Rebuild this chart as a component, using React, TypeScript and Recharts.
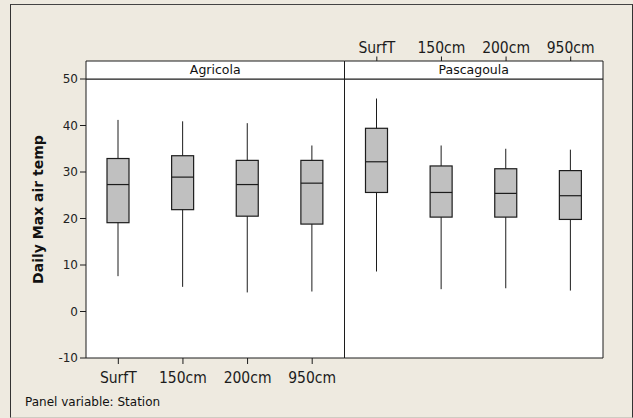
import React from 'react';
import { ComposedChart, Bar, XAxis, YAxis, ReferenceArea, CartesianGrid } from 'recharts';

const categories = ['SurfT', '150cm', '200cm', '950cm'];
const stations = ['Agricola', 'Pascagoula'];

const agricolaMin = [7.6, 5.3, 4.1, 4.3];
const agricolaQ1 = [19.1, 21.9, 20.5, 18.8];
const agricolaMedian = [27.3, 28.9, 27.3, 27.6];
const agricolaQ3 = [32.9, 33.5, 32.5, 32.5];
const agricolaMax = [41.2, 40.9, 40.5, 35.7];

const pascagoulaMin = [8.6, 4.8, 5.0, 4.5];
const pascagoulaQ1 = [25.6, 20.3, 20.3, 19.8];
const pascagoulaMedian = [32.2, 25.6, 25.4, 24.9];
const pascagoulaQ3 = [39.4, 31.3, 30.7, 30.3];
const pascagoulaMax = [45.8, 35.7, 35.0, 34.8];

const yTicks = [-10, 0, 10, 20, 30, 40, 50];
const yLabel = 'Daily Max air temp';
const footnote = 'Panel variable: Station';

const build = (station: string, mn: number[], q1: number[], md: number[], q3: number[], mx: number[]) =>
  categories.map((c, i) => ({
    key: `${station}|${c}`,
    station,
    cat: c,
    min: mn[i],
    q1: q1[i],
    median: md[i],
    q3: q3[i],
    max: mx[i],
  }));

const data = [
  ...build(stations[0], agricolaMin, agricolaQ1, agricolaMedian, agricolaQ3, agricolaMax),
  ...build(stations[1], pascagoulaMin, pascagoulaQ1, pascagoulaMedian, pascagoulaQ3, pascagoulaMax),
];

const W = 633;
const H = 418;
const BG = '#EEEAE0';
const INK = '#1c1c1c';
const FONT = '"DejaVu Sans", Verdana, sans-serif';
const COND = '"DejaVu Sans Condensed", "DejaVu Sans", sans-serif';
const STRIP_TOP = 53.87;

const BoxShape = (props: any) => {
  const { x, y, width, height, payload } = props;
  if (!payload || !isFinite(y) || !isFinite(height)) return <g />;
  const top = Math.min(y, y + height);
  const h = Math.abs(height);
  const { min, q1, median, q3, max } = payload;
  const span = max - min;
  const toY = (v: number) => top + (h * (max - v)) / span;
  const cx = x + width / 2;
  return (
    <g>
      <line x1={cx} x2={cx} y1={toY(max)} y2={toY(min)} stroke={INK} strokeWidth={1} />
      <rect x={x} y={toY(q3)} width={width} height={toY(q1) - toY(q3)} fill="#C0C0C0" stroke={INK} strokeWidth={1.2} />
      <line x1={x} x2={x + width} y1={toY(median)} y2={toY(median)} stroke={INK} strokeWidth={1.2} />
    </g>
  );
};

const BottomTick = (props: any) => {
  const { x, y, payload, index } = props;
  if (index >= categories.length) return <g />;
  const label = String(payload.value).split('|')[1];
  return (
    <g>
      <line x1={x} x2={x} y1={y} y2={y + 6} stroke={INK} strokeWidth={1} />
      <text x={x} y={y + 24.5} textAnchor="middle" fontFamily={COND} fontStretch="condensed" fontSize={15.5} fill={INK}>
        {label}
      </text>
    </g>
  );
};

const TopTick = (props: any) => {
  const { x, y, payload, index } = props;
  if (index < categories.length) return <g />;
  const label = String(payload.value).split('|')[1];
  return (
    <g>
      <line x1={x} x2={x} y1={y - 18} y2={y - 22.5} stroke={INK} strokeWidth={1} />
      <text x={x} y={y - 26.3} textAnchor="middle" fontFamily={COND} fontStretch="condensed" fontSize={15.5} fill={INK}>
        {label}
      </text>
    </g>
  );
};

const YLabel = (props: any) => {
  const vb = props.viewBox || { x: 36, y: 79, width: 50, height: 279 };
  const lx = vb.x + 7;
  const ly = vb.y + vb.height / 2 - 9;
  return (
    <text
      x={lx}
      y={ly}
      transform={`rotate(-90 ${lx} ${ly})`}
      textAnchor="middle"
      fontFamily={FONT}
      fontWeight="bold"
      fontSize={14}
      fill="#111"
    >
      {yLabel}
    </text>
  );
};

export default function App() {
  const first = (s: number) => `${stations[s]}|${categories[0]}`;
  const last = (s: number) => `${stations[s]}|${categories[categories.length - 1]}`;
  return (
    <div
      style={{
        position: 'fixed',
        left: 0,
        top: 0,
        width: W,
        height: H,
        background: BG,
        overflow: 'hidden',
      }}
    >
      <div
        style={{
          position: 'absolute',
          left: 10,
          top: 4,
          width: W - 10 - 2,
          height: H - 4 - 2,
          borderLeft: '1px solid #333',
          borderTop: '1px solid #444',
          borderRight: '1px solid #333',
          borderBottom: '1px solid #cfcbc2',
        }}
      />
      <div style={{ position: 'absolute', left: 0, top: 0 }}>
        <ComposedChart
          width={W}
          height={H}
          data={data}
          margin={{ top: 61, right: 30, bottom: 30, left: 36 }}
          barCategoryGap={0}
        >
          <CartesianGrid horizontal={false} vertical={false} fill="#ffffff" stroke="none" />
          <XAxis
            dataKey="key"
            type="category"
            height={30}
            interval={0}
            axisLine={false}
            tickLine={false}
            tickSize={0}
            tickMargin={0}
            tick={<BottomTick />}
          />
          <XAxis
            xAxisId="top"
            dataKey="key"
            type="category"
            orientation="top"
            height={18}
            interval={0}
            axisLine={false}
            tickLine={false}
            tickSize={0}
            tickMargin={0}
            tick={<TopTick />}
          />
          <YAxis
            type="number"
            domain={[-10, 50]}
            ticks={yTicks}
            width={50}
            axisLine={false}
            tickLine={{ stroke: INK }}
            tickSize={6}
            tickMargin={2}
            tick={{ fontFamily: FONT, fontSize: 12, fill: '#222' }}
            label={(p: any) => <YLabel {...p} />}
          />
          <Bar
            dataKey={(d: any) => [d.min, d.max]}
            barSize={22}
            shape={<BoxShape />}
            isAnimationActive={false}
          />
          {stations.map((s, i) => (
            <ReferenceArea
              key={`panel-${s}`}
              x1={first(i)}
              x2={last(i)}
              y1={-10}
              y2={50}
              fill="none"
              fillOpacity={0}
              stroke={INK}
              strokeWidth={1}
              ifOverflow="visible"
            />
          ))}
          {stations.map((s, i) => (
            <ReferenceArea
              key={`strip-${s}`}
              x1={first(i)}
              x2={last(i)}
              y1={50}
              y2={STRIP_TOP}
              fill="#ffffff"
              fillOpacity={1}
              stroke={INK}
              strokeWidth={1}
              ifOverflow="visible"
              label={{ value: s, position: 'center', fontFamily: FONT, fontSize: 12.5, fill: '#111' }}
            />
          ))}
        </ComposedChart>
      </div>
      <div
        style={{
          position: 'absolute',
          left: 25,
          top: 395,
          fontFamily: FONT,
          fontSize: 12,
          color: '#111',
          lineHeight: '14px',
          whiteSpace: 'nowrap',
        }}
      >
        {footnote}
      </div>
    </div>
  );
}
